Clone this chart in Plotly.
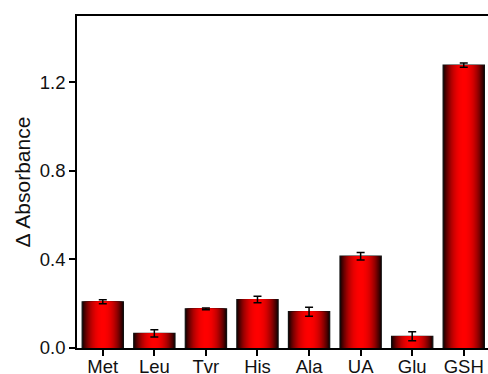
import plotly.graph_objects as go

categories = ["Met", "Leu", "Tvr", "His", "Ala", "UA", "Glu", "GSH"]
values = [0.209, 0.066, 0.177, 0.219, 0.164, 0.415, 0.053, 1.278]
errors = [0.009, 0.016, 0.004, 0.015, 0.020, 0.017, 0.020, 0.010]
y_ticks = [0.0, 0.4, 0.8, 1.2]

fig = go.Figure()
x_idx = list(range(len(categories)))

N = 24
full_w = 0.8
for k in range(N):
    t = 1 - k / N  # normalized half width (1 = edge)
    inten = max(0.0, 1 - t ** 2.2)
    r = int(25 + 230 * inten)
    color = f"rgb({r},0,0)"
    is_last = k == N - 1
    fig.add_trace(go.Bar(
        x=x_idx, y=values, width=full_w * t,
        marker=dict(color=color,
                    line=dict(color="#111111", width=1.2 if k == 0 else 0)),
        error_y=dict(type="data", array=errors, visible=is_last,
                     color="black", thickness=1.5, width=4),
        showlegend=False, hoverinfo="skip",
    ))

fig.update_layout(
    width=488, height=374,
    margin=dict(l=77, r=0, t=16, b=26, autoexpand=False),
    barmode="overlay",
    plot_bgcolor="white", paper_bgcolor="white",
    font=dict(family="Liberation Sans, Arial, sans-serif", size=18.5, color="#111111"),
)
fig.update_xaxes(
    range=[-0.5, 7.47], tickvals=x_idx, ticktext=categories, automargin=False,
    showline=True, linecolor="black", linewidth=1.5, mirror=True,
    ticks="outside", ticklen=6, tickwidth=1.5, tickcolor="black",
    ticklabelstandoff=-5,
    showgrid=False, zeroline=False,
)
fig.update_yaxes(
    range=[0, 1.5], tickvals=y_ticks, tickformat=".1f", automargin=False,
    title=dict(text="Δ Absorbance", standoff=3, font=dict(size=21)),
    showline=True, linecolor="black", linewidth=1.5, mirror=False,
    ticks="outside", ticklen=6, tickwidth=1.5, tickcolor="black",
    showgrid=False, zeroline=False,
)

fig.write_html("out.html", config={"displayModeBar": False},
               post_script="document.body.style.margin='0px';")
